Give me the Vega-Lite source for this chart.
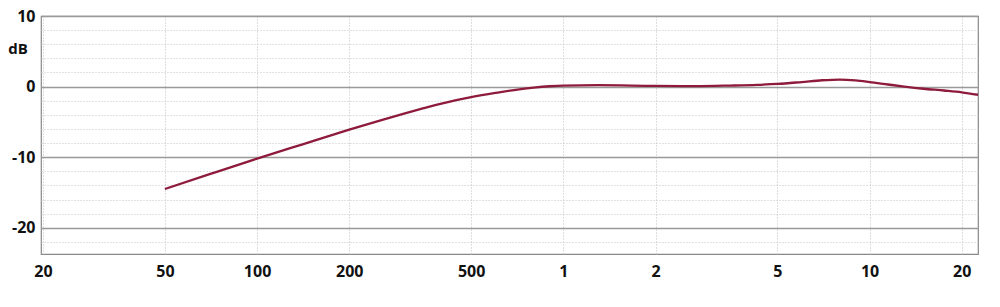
{
  "$schema": "https://vega.github.io/schema/vega-lite/v6.json",
  "width": 937,
  "height": 238,
  "autosize": {"type": "none"},
  "padding": {"left": 41, "top": 16, "right": 22, "bottom": 53},
  "background": "white",
  "config": {
    "view": {"stroke": "#888888", "strokeWidth": 1.2},
    "font": "Open Sans"
  },
  "data": {
    "values": [
      {"freq": 50, "db": -14.5},
      {"freq": 70, "db": -12.4},
      {"freq": 100, "db": -10.2},
      {"freq": 140, "db": -8.2},
      {"freq": 200, "db": -6.1},
      {"freq": 250, "db": -4.85},
      {"freq": 300, "db": -3.85},
      {"freq": 350, "db": -3.05},
      {"freq": 400, "db": -2.4},
      {"freq": 500, "db": -1.5},
      {"freq": 600, "db": -0.9},
      {"freq": 700, "db": -0.45},
      {"freq": 800, "db": -0.15},
      {"freq": 900, "db": 0.05},
      {"freq": 1000, "db": 0.15},
      {"freq": 1300, "db": 0.2},
      {"freq": 2000, "db": 0.1},
      {"freq": 2700, "db": 0.07},
      {"freq": 3500, "db": 0.15},
      {"freq": 4300, "db": 0.25},
      {"freq": 5000, "db": 0.38},
      {"freq": 6000, "db": 0.65},
      {"freq": 7000, "db": 0.9},
      {"freq": 8000, "db": 1.0},
      {"freq": 9000, "db": 0.88},
      {"freq": 10000, "db": 0.65},
      {"freq": 11500, "db": 0.3},
      {"freq": 13000, "db": 0.0},
      {"freq": 15000, "db": -0.3},
      {"freq": 17500, "db": -0.55},
      {"freq": 20000, "db": -0.8},
      {"freq": 22600, "db": -1.15}
    ]
  },
  "mark": {"type": "line", "color": "#8E1B3B", "strokeWidth": 2.3, "interpolate": "monotone", "clip": true},
  "encoding": {
    "x": {
      "field": "freq",
      "type": "quantitative",
      "scale": {"type": "log", "domain": [19.7, 22600], "nice": false},
      "axis": {
        "values": [20, 50, 100, 200, 500, 1000, 2000, 5000, 10000, 20000],
        "labelExpr": "datum.value >= 1000 ? '' + (datum.value / 1000) : '' + datum.value",
        "title": null,
        "domain": false,
        "ticks": false,
        "labelPadding": 9,
        "labelFont": "Open Sans",
        "labelFontWeight": "bold",
        "labelFontSize": 16,
        "labelColor": "#111111",
        "labelFlush": false,
        "grid": true,
        "gridColor": "#bdbdbd",
        "gridDash": [1, 2],
        "gridWidth": 1
      }
    },
    "y": {
      "field": "db",
      "type": "quantitative",
      "scale": {"domain": [-23.7, 10], "nice": false, "zero": false},
      "axis": {
        "values": [-22, -20, -18, -16, -14, -12, -10, -8, -6, -4, -2, 0, 2, 4, 6, 8, 10],
        "labelExpr": "datum.value % 10 === 0 ? '' + datum.value : ''",
        "title": "dB",
        "titleAngle": 0,
        "titleX": -23.5,
        "titleY": 32,
        "titleAlign": "center",
        "titleBaseline": "middle",
        "titleFont": "Open Sans",
        "titleFontWeight": "bold",
        "titleFontSize": 15,
        "titleColor": "#111111",
        "domain": false,
        "ticks": false,
        "labelPadding": 6,
        "labelFont": "Open Sans",
        "labelFontWeight": "bold",
        "labelFontSize": 16,
        "labelColor": "#111111",
        "labelFlush": false,
        "grid": true,
        "gridColor": {"condition": {"test": "datum.value % 10 === 0", "value": "#999999"}, "value": "#c4c4c4"},
        "gridDash": {"condition": {"test": "datum.value % 10 === 0", "value": []}, "value": [1, 2]},
        "gridWidth": {"condition": {"test": "datum.value % 10 === 0", "value": 1.3}, "value": 1}
      }
    }
  }
}
